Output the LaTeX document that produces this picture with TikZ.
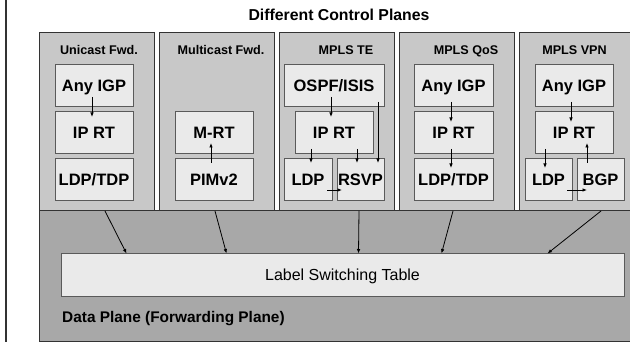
\documentclass[tikz,border=0pt]{standalone}
\usepackage{fontspec}
\setmainfont{Liberation Sans}
\usetikzlibrary{arrows.meta,calc}
\definecolor{panelfill}{HTML}{C8C8C8}
\definecolor{boxfill}{HTML}{EAEAEA}
\definecolor{dataplane}{HTML}{A8A8A8}
\definecolor{darkline}{HTML}{333333}
\definecolor{boxline}{HTML}{5A5A5A}
\begin{document}
\begin{tikzpicture}[x=1pt,y=-1pt,
  panel/.style={fill=panelfill,draw=darkline,line width=1pt},
  inbox/.style={draw=boxline,fill=boxfill,line width=1pt,inner sep=0pt,outer sep=0pt,
    minimum height=42pt,font=\fontsize{16.5}{18}\selectfont\bfseries,text height=11.8pt,text depth=0pt},
  ptitle/.style={font=\fontsize{12.6}{14}\selectfont\bfseries,inner sep=0pt,text height=9pt,text depth=0pt},
  arr/.style={-{Latex[length=4.5pt,width=3.6pt]},line width=0.8pt,black}]
\useasboundingbox (0,0) rectangle (630,342);
\clip (0,0) rectangle (630,342);
\fill[white] (0,0) rectangle (630,342);
\draw[line width=1.6pt,darkline] (6,0) -- (6,342);
% title
\node[font=\fontsize{15.8}{18}\selectfont\bfseries,inner sep=0pt,text height=11.3pt,text depth=0pt] (title) at (339,14.8) {Different Control Planes};
% panels
\path[panel] (39,33) rectangle (154,211);
\path[panel] (159,33) rectangle (274,211);
\path[panel] (279,33) rectangle (394,211);
\path[panel] (399,33) rectangle (514,211);
\path[panel] (519,33) rectangle (640,211);
\node[ptitle] (t1) at (99,50) {Unicast Fwd.};
\node[ptitle] (t2) at (221,50) {Multicast Fwd.};
\node[ptitle] (t3) at (346,50) {MPLS TE};
\node[ptitle] (t4) at (466,50) {MPLS QoS};
\node[ptitle] (t5) at (574.5,50) {MPLS VPN};
% data plane
\path[fill=dataplane,draw=darkline,line width=1pt] (39,211) rectangle (640,341);
\node[draw=boxline,fill=boxfill,line width=1pt,inner sep=0pt,minimum width=563pt,minimum height=42pt,
  font=\fontsize{16}{18}\selectfont,text height=11.4pt,text depth=0pt] (lst) at (342.5,275) {Label Switching Table};
\node[anchor=base west,inner sep=0pt,font=\fontsize{15.4}{18}\selectfont\bfseries] (dp) at (62,323) {Data Plane (Forwarding Plane)};
% panel 1
\node[inbox,minimum width=78pt] (igp1) at (94,86) {Any IGP};
\node[inbox,minimum width=78pt] (iprt1) at (94,133) {IP RT};
\node[inbox,minimum width=78pt] (ldp1) at (94,180) {LDP/TDP};
% panel 2
\node[inbox,minimum width=78pt] (mrt) at (214,133) {M-RT};
\node[inbox,minimum width=78pt] (pim) at (214,180) {PIMv2};
% panel 3
\node[inbox,minimum width=100pt] (ospf) at (334,86) {OSPF/ISIS};
\node[inbox,minimum width=78pt] (iprt3) at (334,133) {IP RT};
\node[inbox,minimum width=48pt] (ldp3) at (308,180) {LDP};
\node[inbox,minimum width=47pt] (rsvp) at (360.5,180) {RSVP};
% panel 4
\node[inbox,minimum width=79pt] (igp4) at (453.5,86) {Any IGP};
\node[inbox,minimum width=79pt] (iprt4) at (453.5,133) {IP RT};
\node[inbox,minimum width=79pt] (ldp4) at (453.5,180) {LDP/TDP};
% panel 5
\node[inbox,minimum width=78pt] (igp5) at (574,86) {Any IGP};
\node[inbox,minimum width=78pt] (iprt5) at (574,133) {IP RT};
\node[inbox,minimum width=47pt] (ldp5) at (548.5,180) {LDP};
\node[inbox,minimum width=47pt] (bgp) at (600.5,180) {BGP};
% inner arrows
\draw[arr] ($(igp1.south)+(-2,-10)$) -- ($(iprt1.north)+(-2,5)$);
\draw[arr] ($(pim.north)+(-3,4)$) -- ($(mrt.south)+(-3,-11)$);
\draw[arr] ($(ospf.south)+(-3,-10)$) -- ($(iprt3.north)+(-3,5)$);
\draw[arr] ($(iprt3.south -| ldp3.north)+(3,-5)$) -- ($(ldp3.north)+(3,4)$);
\draw[arr] ($(iprt3.south -| rsvp.north)+(-3.5,-5)$) -- ($(rsvp.north)+(-3.5,4)$);
\draw[arr] ($(ospf.south east)+(-6,-5)$) -- ($(rsvp.north east)+(-6,4)$);
\draw[arr] ($(ldp3.east)+(-5,10)$) -- ($(rsvp.west)+(5,10)$);
\draw[arr] ($(igp4.south)+(-2.5,-5)$) -- ($(iprt4.north)+(-2.5,10)$);
\draw[arr] ($(iprt4.south)+(-2.5,-5)$) -- ($(ldp4.north)+(-2.5,9)$);
\draw[arr] ($(igp5.south)+(-3,-5)$) -- ($(iprt5.north)+(-3,10)$);
\draw[arr] ($(iprt5.south -| ldp5.north)+(-3.5,-5)$) -- ($(ldp5.north)+(-3.5,9)$);
\draw[arr] ($(bgp.north)+(-13.5,4)$) -- ($(iprt5.south -| bgp.north)+(-13.5,-11)$);
\draw[arr] ($(ldp5.east)+(-5,10)$) -- ($(bgp.west)+(10,10)$);
% arrows to label switching table
\coordinate (s1) at (105,211);
\coordinate (s2) at (215,211);
\coordinate (s3) at (359,211);
\coordinate (s4) at (453,211);
\coordinate (s5) at (601,211);
\coordinate (e1) at ($(lst.north west)+(66,0)$);
\coordinate (e2) at ($(lst.north west)+(166,0)$);
\coordinate (e3) at ($(lst.north west)+(298,0)$);
\coordinate (e4) at ($(lst.north west)+(381,0)$);
\coordinate (e5) at ($(lst.north west)+(487,0)$);
\foreach \i in {1,...,5} {\draw[arr] (s\i) -- (e\i);}
\end{tikzpicture}
\end{document}
